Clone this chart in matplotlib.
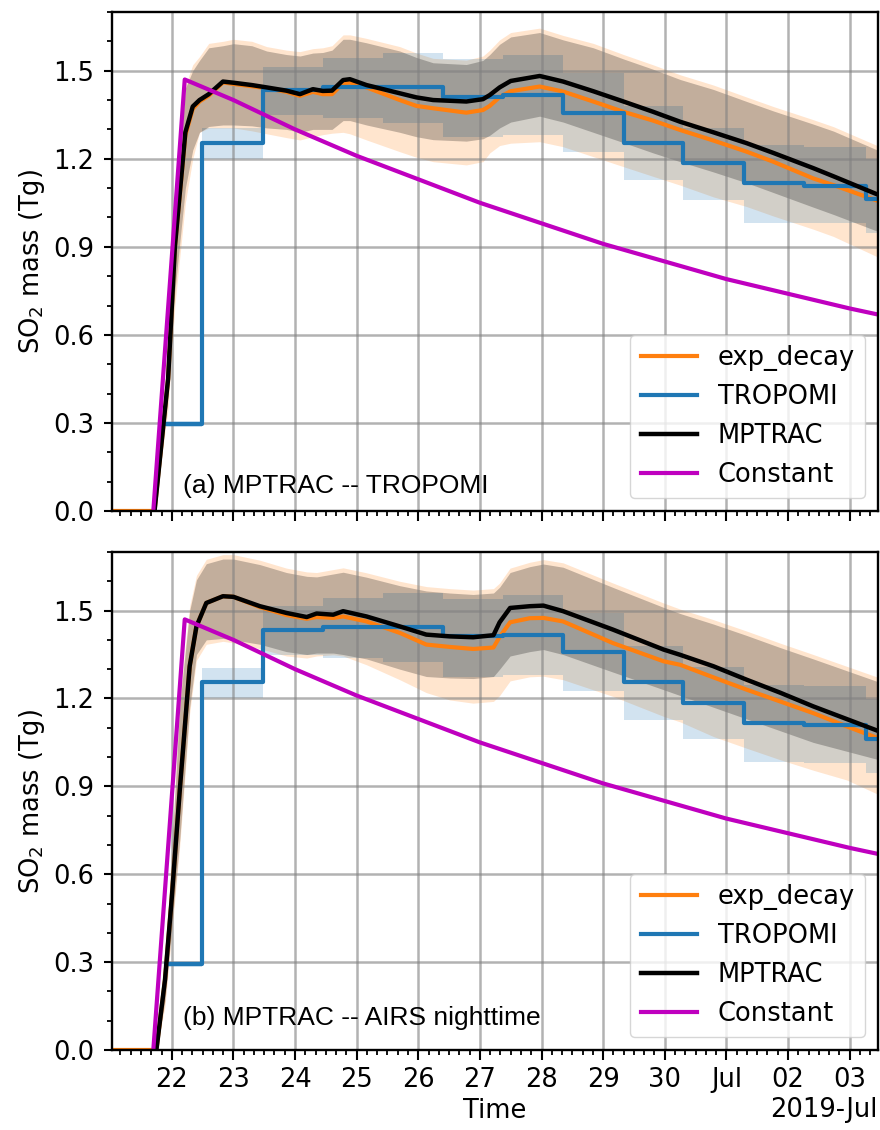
import numpy as np
import pandas as pd
import matplotlib
matplotlib.use("Agg")
import matplotlib.pyplot as plt
import matplotlib.dates as mdates
from matplotlib.ticker import MultipleLocator

# time given as day of June 2019 (July 1 = 31)
nan = np.nan

# ---- panel (a): MPTRAC vs TROPOMI ----
ta = [21.03, 21.72, 21.94, 22.05, 22.22, 22.34, 22.45, 22.6, 22.83, 23.0, 23.3, 23.54, 23.86, 24.08,
      24.29, 24.45, 24.6, 24.78, 24.89, 25.16, 25.7, 25.97, 26.24, 26.78, 27.05, 27.16, 27.32, 27.5,
      27.97, 28.35, 28.84, 29.33, 29.81, 30.25, 30.79, 31.33, 31.76, 32.41, 32.74, 33.49]
mptrac_a = [nan, 0, 0.45, 0.90, 1.29, 1.378, 1.40, 1.42, 1.463, 1.459, 1.451, 1.443, 1.432, 1.420,
            1.437, 1.431, 1.432, 1.468, 1.471, 1.451, 1.423, 1.409, 1.400, 1.395, 1.403, 1.417, 1.443, 1.465,
            1.482, 1.463, 1.43, 1.395, 1.36, 1.326, 1.29, 1.253, 1.22, 1.168, 1.14, 1.075]
mptrac_a_hi = [nan, 0, 0.5, 1.0, 1.44, 1.5, 1.535, 1.578, 1.585, 1.592, 1.585, 1.567, 1.555, 1.55,
               1.56, 1.562, 1.57, 1.607, 1.607, 1.595, 1.567, 1.545, 1.527, 1.521, 1.535, 1.555, 1.59, 1.615,
               1.63, 1.605, 1.578, 1.54, 1.505, 1.47, 1.436, 1.395, 1.363, 1.318, 1.294, 1.226]
mptrac_a_lo = [nan, 0, 0.4, 0.75, 1.1, 1.23, 1.29, 1.31, 1.315, 1.315, 1.312, 1.305, 1.30, 1.29,
               1.30, 1.30, 1.30, 1.33, 1.33, 1.315, 1.29, 1.275, 1.265, 1.26, 1.268, 1.28, 1.305, 1.325,
               1.345, 1.325, 1.29, 1.255, 1.22, 1.19, 1.155, 1.118, 1.085, 1.035, 1.01, 0.95]
exp_a = [0, 0, 0.45, 0.9, 1.28, 1.37, 1.395, 1.415, 1.46, 1.455, 1.447, 1.44, 1.428, 1.414,
         1.428, 1.42, 1.42, 1.457, 1.46, 1.443, 1.40, 1.38, 1.372, 1.357, 1.366, 1.38, 1.41, 1.43,
         1.446, 1.429, 1.395, 1.36, 1.33, 1.298, 1.262, 1.224, 1.19, 1.133, 1.11, 1.054]
exp_a_hi = [0, 0, 0.5, 1.0, 1.45, 1.52, 1.548, 1.593, 1.60, 1.607, 1.60, 1.582, 1.57, 1.565,
            1.575, 1.578, 1.585, 1.622, 1.622, 1.61, 1.582, 1.56, 1.542, 1.536, 1.55, 1.57, 1.605, 1.63,
            1.645, 1.62, 1.593, 1.555, 1.52, 1.486, 1.451, 1.41, 1.378, 1.333, 1.309, 1.241]
exp_a_lo = [0, 0, 0.35, 0.7, 1.05, 1.2, 1.29, 1.305, 1.305, 1.305, 1.295, 1.285, 1.272, 1.264,
            1.275, 1.282, 1.287, 1.29, 1.285, 1.264, 1.224, 1.205, 1.19, 1.179, 1.19, 1.22, 1.245, 1.253,
            1.258, 1.241, 1.207, 1.173, 1.14, 1.11, 1.07, 1.037, 1.005, 0.96, 0.935, 0.862]

# ---- panel (b): MPTRAC vs AIRS nighttime ----
tb = [21.03, 21.75, 21.89, 22.0, 22.13, 22.29, 22.4, 22.56, 22.83, 23.0, 23.43, 23.86, 24.19, 24.35,
      24.62, 24.78, 25.16, 25.7, 26.13, 26.51, 26.89, 27.22, 27.32, 27.49, 27.81, 28.03, 28.35, 29.16,
      29.98, 30.25, 30.79, 31.33, 31.87, 32.41, 32.95, 33.49]
mptrac_b = [nan, 0, 0.24, 0.52, 0.888, 1.31, 1.446, 1.526, 1.549, 1.547, 1.515, 1.492, 1.478, 1.49,
            1.486, 1.498, 1.480, 1.446, 1.418, 1.412, 1.409, 1.416, 1.46, 1.509, 1.515, 1.517, 1.498, 1.435,
            1.367, 1.349, 1.31, 1.264, 1.22, 1.173, 1.13, 1.087]
mptrac_b_hi = [nan, 0, 0.28, 0.68, 1.18, 1.5, 1.605, 1.66, 1.676, 1.676, 1.657, 1.63, 1.617, 1.615,
               1.625, 1.631, 1.614, 1.585, 1.567, 1.56, 1.555, 1.56, 1.58, 1.63, 1.65, 1.659, 1.648, 1.579,
               1.511, 1.49, 1.454, 1.415, 1.374, 1.335, 1.295, 1.255]
mptrac_b_lo = [nan, 0, 0.17, 0.42, 0.72, 1.17, 1.35, 1.40, 1.405, 1.40, 1.385, 1.36, 1.35, 1.355,
               1.355, 1.35, 1.335, 1.30, 1.275, 1.27, 1.268, 1.275, 1.30, 1.345, 1.36, 1.367, 1.35, 1.29,
               1.23, 1.21, 1.17, 1.13, 1.09, 1.05, 1.02, 0.99]
exp_b = [0, 0, 0.24, 0.52, 0.888, 1.31, 1.446, 1.526, 1.549, 1.547, 1.512, 1.485, 1.472, 1.478,
         1.475, 1.48, 1.463, 1.424, 1.384, 1.376, 1.369, 1.374, 1.41, 1.46, 1.474, 1.475, 1.463, 1.389,
         1.327, 1.315, 1.272, 1.230, 1.19, 1.150, 1.105, 1.062]
exp_b_hi = [0, 0, 0.3, 0.7, 1.2, 1.515, 1.62, 1.675, 1.691, 1.691, 1.672, 1.645, 1.632, 1.63,
            1.64, 1.646, 1.629, 1.600, 1.582, 1.575, 1.57, 1.575, 1.594, 1.645, 1.665, 1.674, 1.663, 1.594,
            1.526, 1.505, 1.469, 1.43, 1.389, 1.35, 1.31, 1.27]
exp_b_lo = [0, 0, 0.15, 0.4, 0.7, 1.15, 1.33, 1.385, 1.395, 1.39, 1.37, 1.345, 1.338, 1.345,
            1.349, 1.345, 1.315, 1.264, 1.22, 1.195, 1.184, 1.19, 1.21, 1.26, 1.274, 1.276, 1.264, 1.207,
            1.139, 1.12, 1.070, 1.03, 0.991, 0.955, 0.922, 0.87]

# ---- TROPOMI (step, same in both panels) ----
trop_t = [21.9, 22.49, 23.48, 24.45, 25.43, 26.40, 27.37, 28.35, 29.34, 30.30, 31.29, 32.26, 33.27, 33.6]
trop = [0.295, 1.255, 1.435, 1.445, 1.445, 1.412, 1.418, 1.357, 1.255, 1.185, 1.116, 1.108, 1.063, 1.063]
trop_lo = [0.285, 1.20, 1.349, 1.338, 1.323, 1.275, 1.28, 1.224, 1.128, 1.06, 0.982, 0.98, 0.947, 0.947]
trop_hi = [0.305, 1.305, 1.514, 1.542, 1.559, 1.54, 1.554, 1.491, 1.38, 1.306, 1.247, 1.241, 1.199, 1.199]

# ---- constant emission ----
const_t = [21.70, 22.21, 23, 24, 25, 26, 27, 28, 29, 30, 31, 32, 33, 33.6]
const = [0, 1.47, 1.40, 1.30, 1.21, 1.13, 1.05, 0.98, 0.91, 0.85, 0.79, 0.74, 0.69, 0.663]

base = pd.Timestamp("2019-06-01")


def to_time(days):
    return base + pd.to_timedelta(np.asarray(days, dtype=float) - 1.0, unit="D")


FS = 18.5
plt.rcParams["font.family"] = "DejaVu Sans"
fig = plt.figure(figsize=(8.8, 11.3), dpi=100)
ax1 = fig.add_axes([0.1273, 0.5478, 0.8704, 0.4416])
ax2 = fig.add_axes([0.1273, 0.0708, 0.8704, 0.4407], sharex=ax1)

panels = [
    (ax1, ta, mptrac_a, mptrac_a_lo, mptrac_a_hi, exp_a, exp_a_lo, exp_a_hi,
     "(a) MPTRAC -- TROPOMI", 0.036),
    (ax2, tb, mptrac_b, mptrac_b_lo, mptrac_b_hi, exp_b, exp_b_lo, exp_b_hi,
     "(b) MPTRAC -- AIRS nighttime", 0.05),
]

for ax, t, m, mlo, mhi, e, elo, ehi, label, ty in panels:
    x = to_time(t)
    xt = to_time(trop_t)
    ax.fill_between(x, elo, ehi, color="tab:orange", alpha=0.2, lw=0)
    ax.fill_between(xt, trop_lo, trop_hi, step="post", color="tab:blue", alpha=0.2, lw=0)
    ax.fill_between(x, mlo, mhi, color="k", alpha=0.24, lw=0)
    ax.plot(x, e, color="tab:orange", lw=3.0, label="exp_decay")
    ax.step(xt, trop, where="post", color="tab:blue", lw=3.0, label="TROPOMI")
    ax.plot(x, m, color="k", lw=3.2, label="MPTRAC")
    ax.plot(to_time(const_t), const, color="m", lw=3.0, label="Constant")

    ax.set_ylim(0, 1.7)
    ax.yaxis.set_major_locator(MultipleLocator(0.3))
    ax.yaxis.set_minor_locator(MultipleLocator(0.1))
    ax.grid(True, which="major", color="gray", alpha=0.6, lw=1.8)
    ax.set_ylabel("SO$_2$ mass (Tg)", fontsize=FS)
    ax.tick_params(axis="both", which="major", length=6, width=1.5, labelsize=FS)
    ax.tick_params(axis="y", which="major", pad=7)
    ax.tick_params(axis="x", which="major", pad=5, length=7)
    ax.tick_params(axis="both", which="minor", length=3.5, width=1.3)
    for s in ax.spines.values():
        s.set_linewidth(1.7)
    ax.legend(loc="lower right", fontsize=FS, handlelength=2.2, framealpha=0.8)
    ax.text(0.093, ty, label, transform=ax.transAxes, fontsize=19,
            family="Liberation Sans", va="baseline")

loc = mdates.DayLocator()
ax2.xaxis.set_major_locator(loc)
ax2.xaxis.set_major_formatter(mdates.ConciseDateFormatter(loc))
ax2.xaxis.set_minor_locator(mdates.HourLocator(byhour=range(0, 24, 4)))
ax2.set_xlim(to_time([21.03])[0], to_time([33.46])[0])
ax2.xaxis.get_offset_text().set_fontsize(FS)
plt.setp(ax1.get_xticklabels(), visible=False)
ax1.xaxis.get_offset_text().set_visible(False)
ax2.set_xlabel("Time", fontsize=FS)

fig.savefig("out.png", dpi=100)
